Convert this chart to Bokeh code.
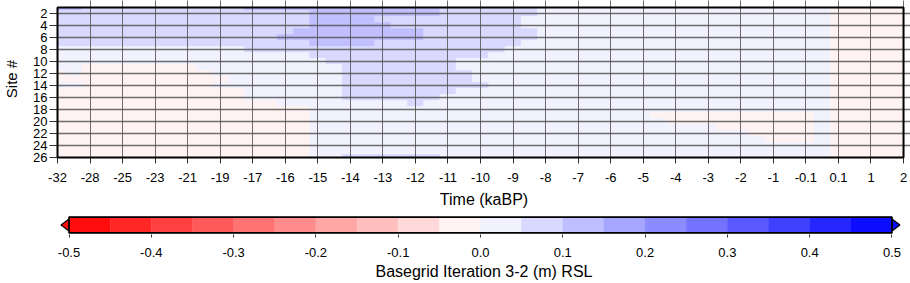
from bokeh.plotting import figure
from bokeh.layouts import column
from bokeh.models import (Range1d, FixedTicker, ColumnDataSource,
                          LinearColorMapper)
from bokeh.transform import transform
from bokeh.embed import file_html
from bokeh.resources import INLINE

# ---------------- data ----------------
time_labels = ["-32", "-28", "-25", "-23", "-21", "-19", "-17", "-16", "-15",
               "-14", "-13", "-12", "-11", "-10", "-9", "-8", "-7", "-6", "-5",
               "-4", "-3", "-2", "-1", "-0.1", "0.1", "1", "2"]
sites = list(range(1, 27))
site_ticks = list(range(2, 27, 2))

# level codes (one code per half time-step node)
level_values = {"p": -0.02, "l": 0.02, "m": 0.07, "d": 0.12}
rsl_rows = [
    "dd" + "m" * 10 + "d" * 12 + "m" * 6 + "l" * 18 + "p" * 5,          # 1
    "m" * 16 + "d" * 8 + "m" * 6 + "l" * 18 + "p" * 5,                   # 2
    "m" * 16 + "d" * 4 + "m" * 9 + "l" * 19 + "p" * 5,                   # 3
    "m" * 16 + "d" * 5 + "m" * 8 + "l" * 19 + "p" * 5,                   # 4
    "m" * 15 + "d" * 8 + "m" * 7 + "l" * 18 + "p" * 5,                   # 5
    "m" * 14 + "d" * 9 + "m" * 7 + "l" * 18 + "p" * 5,                   # 6
    "m" * 16 + "d" * 4 + "m" * 9 + "l" * 19 + "p" * 5,                   # 7
    "l" * 12 + "m" * 16 + "l" * 20 + "p" * 5,                            # 8
    "l" * 16 + "m" * 11 + "l" * 21 + "p" * 5,                            # 9
    "l" * 17 + "m" * 8 + "l" * 23 + "p" * 5,                             # 10
    "l" * 2 + "p" * 7 + "l" * 9 + "m" * 7 + "l" * 23 + "p" * 5,          # 11
    "p" + "l" + "p" * 8 + "l" * 8 + "m" * 8 + "l" * 22 + "p" * 5,        # 12
    "p" * 11 + "l" * 7 + "m" * 8 + "l" * 22 + "p" * 5,                   # 13
    "l" * 2 + "p" * 8 + "l" * 8 + "m" * 9 + "l" * 21 + "p" * 5,          # 14
    "p" * 12 + "l" * 6 + "m" * 7 + "l" * 23 + "p" * 5,                   # 15
    "p" * 12 + "l" * 6 + "m" * 6 + "l" * 24 + "p" * 5,                   # 16
    "p" * 14 + "l" * 8 + "m" + "l" * 25 + "p" * 5,                       # 17
    "p" * 16 + "l" * 32 + "p" * 5,                                       # 18
    "p" * 16 + "l" * 21 + "p" * 10 + "l" + "p" * 5,                      # 19
    "p" * 16 + "l" * 22 + "p" * 9 + "l" + "p" * 5,                       # 20
    "p" * 16 + "l" * 25 + "p" * 6 + "l" + "p" * 5,                       # 21
    "p" * 16 + "l" * 27 + "p" * 4 + "l" + "p" * 5,                       # 22
    "p" * 16 + "l" * 28 + "p" * 3 + "l" + "p" * 5,                       # 23
    "p" * 16 + "l" * 32 + "p" * 5,                                       # 24
    "p" * 16 + "l" * 32 + "p" * 5,                                       # 25
    "p" * 16 + "l" * 2 + "m" * 6 + "l" * 24 + "p" * 5,                   # 26
]

cbar_low, cbar_high, cbar_bins = -0.5, 0.5, 20
cbar_ticks = [-0.5, -0.4, -0.3, -0.2, -0.1, 0.0, 0.1, 0.2, 0.3, 0.4, 0.5]
cbar_labels = ["-0.5", "-0.4", "-0.3", "-0.2", "-0.1", "0.0", "0.1", "0.2",
               "0.3", "0.4", "0.5"]

FONT = "Liberation Sans"

# ---------------- layout constants (pixels) ----------------
W = 910
FRAME_L = 53          # left edge of the map
MAP_W = 850           # width of the map
MAP_H = 150           # height of the map
TICK_TOP = 7          # outer ticks above the map
TICK_RIGHT = W - FRAME_L - MAP_W   # outer ticks right of the map


# ---------------- colour map (red - white - blue, 20 bins) ----------------
def polar(k):
    mid = cbar_low + (k + 0.5) * (cbar_high - cbar_low) / cbar_bins
    f = abs(mid) / cbar_high
    c = int(round(255 * (1 - f)))
    rgb = (255, c, c) if mid < 0 else (c, c, 255)
    return "#%02x%02x%02x" % rgb


palette = [polar(k) for k in range(cbar_bins)]
mapper = LinearColorMapper(palette=palette, low=cbar_low, high=cbar_high)

# ---------------- cells (runs of equal level per site row) ----------------
n_cols = len(time_labels) - 1
y_first, y_last = sites[0], sites[-1]
L, R, T, B, V = [], [], [], [], []
for s, row in zip(sites, rsl_rows):
    n = len(row)
    step = n_cols / (n - 1)
    i = 0
    while i < n:
        j = i
        while j + 1 < n and row[j + 1] == row[i]:
            j += 1
        L.append(max(0.0, (i - 0.5) * step))
        R.append(min(float(n_cols), (j + 0.5) * step))
        T.append(max(y_first, s - 0.5))
        B.append(min(y_last, s + 0.5))
        V.append(level_values[row[i]])
        i = j + 1
src = ColumnDataSource(dict(left=L, right=R, top=T, bottom=B, val=V))

# ---------------- main heat map ----------------
px_per_col = MAP_W / n_cols
px_per_site = MAP_H / (y_last - y_first)
x_range = Range1d(0, n_cols + TICK_RIGHT / px_per_col)
y_range = Range1d(y_last, y_first - TICK_TOP / px_per_site)

p = figure(width=W, height=210, x_range=x_range, y_range=y_range,
           output_backend="svg", toolbar_location=None,
           min_border_left=FRAME_L, min_border_right=0,
           min_border_top=0, min_border_bottom=210 - MAP_H - TICK_TOP)
p.outline_line_color = None
p.background_fill_color = "white"
p.border_fill_color = "white"

p.quad(left="left", right="right", top="top", bottom="bottom", source=src,
       fill_color=transform("val", mapper), line_color=transform("val", mapper),
       line_width=0.6)

xt = FixedTicker(ticks=list(range(len(time_labels))))
yt = FixedTicker(ticks=site_ticks)

# grid lines (they also form the outer ticks above and right of the map)
p.xgrid.ticker = xt
p.ygrid.ticker = yt
for g in (p.xgrid[0], p.ygrid[0]):
    g.level = "annotation"
    g.grid_line_color = "#555555"
    g.grid_line_alpha = 0.85
p.xgrid.grid_line_width = 1
p.ygrid.grid_line_width = 1.4

# map border
border = p.quad(left=0, right=n_cols, top=y_first, bottom=y_last,
                fill_color=None, line_color="black", line_width=2)
border.level = "overlay"

xa = p.xaxis[0]
xa.ticker = xt
xa.major_label_overrides = {i: t for i, t in enumerate(time_labels)}
xa.axis_line_color = None
xa.major_tick_out = 6
xa.major_tick_in = 0
xa.major_tick_line_color = "#333333"
xa.minor_tick_line_color = None
xa.major_label_text_font = FONT
xa.major_label_text_font_size = "13px"
xa.major_label_text_color = "black"
xa.major_label_standoff = 9
xa.axis_label = "Time (kaBP)"
xa.axis_label_text_font = FONT
xa.axis_label_text_font_size = "16px"
xa.axis_label_text_font_style = "normal"
xa.axis_label_text_color = "black"
xa.axis_label_standoff = 6

ya = p.yaxis[0]
ya.ticker = yt
ya.axis_line_color = None
ya.major_tick_out = 8
ya.major_tick_in = 0
ya.major_tick_line_color = "#333333"
ya.minor_tick_line_color = None
ya.major_label_text_font = FONT
ya.major_label_text_font_size = "13px"
ya.major_label_text_color = "black"
ya.major_label_standoff = 2
ya.axis_label = "Site #"
ya.axis_label_text_font = FONT
ya.axis_label_text_font_size = "15px"
ya.axis_label_text_font_style = "normal"
ya.axis_label_text_color = "black"
ya.axis_label_standoff = 10

# ---------------- colour bar ----------------
pad_l = 0.014
pad_r = 0.0225
tip = 0.0097
cb = figure(width=W, height=73,
            x_range=Range1d(cbar_low - pad_l, cbar_high + pad_r),
            y_range=Range1d(-0.1, 1.1), y_axis_location=None,
            output_backend="svg", toolbar_location=None,
            min_border_left=FRAME_L, min_border_right=0, min_border_top=5,
            min_border_bottom=49)
cb.outline_line_color = None
cb.grid.visible = False

edges = [cbar_low + k * (cbar_high - cbar_low) / cbar_bins for k in range(cbar_bins + 1)]
cb.quad(left=edges[:-1], right=edges[1:], bottom=0, top=1,
        fill_color=palette, line_color=palette, line_width=0.5)
cb.patches(xs=[[cbar_low, cbar_low - tip, cbar_low], [cbar_high, cbar_high + tip, cbar_high]],
           ys=[[0.12, 0.5, 0.88], [0.12, 0.5, 0.88]],
           fill_color=[palette[0], palette[-1]], line_color="black", line_width=1.2)
cb.quad(left=cbar_low, right=cbar_high, bottom=0, top=1, fill_color=None,
        line_color="black", line_width=1.6)

ca = cb.xaxis[0]
ca.ticker = FixedTicker(ticks=cbar_ticks)
ca.major_label_overrides = {t: l for t, l in zip(cbar_ticks, cbar_labels)}
ca.axis_line_color = None
ca.major_tick_out = 3
ca.major_tick_in = 0
ca.major_tick_line_color = "#333333"
ca.minor_tick_line_color = None
ca.major_label_text_font = FONT
ca.major_label_text_font_size = "13px"
ca.major_label_text_color = "black"
ca.major_label_standoff = 10
ca.axis_label = "Basegrid Iteration 3-2 (m) RSL"
ca.axis_label_text_font = FONT
ca.axis_label_text_font_size = "16px"
ca.axis_label_text_font_style = "normal"
ca.axis_label_text_color = "black"
ca.axis_label_standoff = 3

layout = column(p, cb, spacing=0)
open("out.html", "w").write(file_html(layout, INLINE))
